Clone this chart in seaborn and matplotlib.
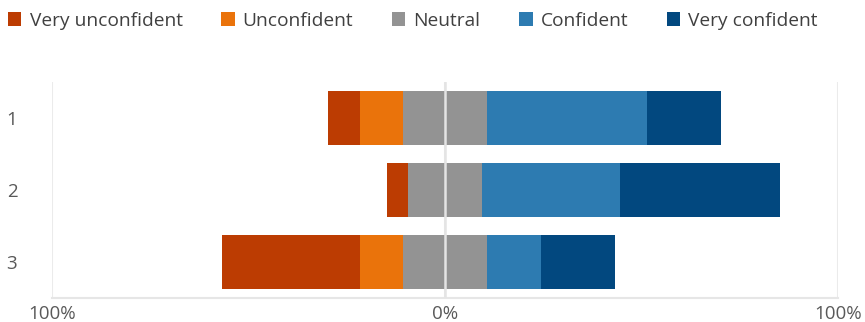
import numpy as np
import pandas as pd
import matplotlib
matplotlib.use("Agg")
import matplotlib.pyplot as plt
from matplotlib.patches import Patch
import seaborn as sns

# --- Data (response counts per question, n = 37) ---
questions = ["1", "2", "3"]
levels = ["Very unconfident", "Unconfident", "Neutral", "Confident", "Very confident"]
very_unconfident = [3, 2, 13]
unconfident = [4, 0, 4]
neutral = [8, 7, 8]
confident = [15, 13, 5]
very_confident = [7, 15, 7]

colors = ["#BC3C02", "#EA730B", "#939393", "#2D7BB1", "#02487F"]

# --- Convert counts to percentages ---
counts = np.array([very_unconfident, unconfident, neutral, confident, very_confident], dtype=float)
pct = counts / counts.sum(axis=0) * 100
vu, u, n, c, vc = pct

# diverging: overlapping bars from 0, outer ones drawn first
df = pd.DataFrame({
    "q": questions,
    "left_vu": -(vu + u + n / 2),
    "left_u": -(u + n / 2),
    "left_n": -(n / 2),
    "right_vc": n / 2 + c + vc,
    "right_c": n / 2 + c,
    "right_n": n / 2,
})

sns.set_style("white")
plt.rcParams["font.family"] = ["Open Sans", "DejaVu Sans"]

fig = plt.figure(figsize=(8.65, 3.22), dpi=100)
ax = fig.add_axes([52 / 865, 24 / 322, 786 / 865, 216 / 322])

layers = [
    ("left_vu", colors[0]), ("left_u", colors[1]), ("left_n", colors[2]),
    ("right_vc", colors[4]), ("right_c", colors[3]), ("right_n", colors[2]),
]
for col, colr in layers:
    sns.barplot(data=df, x=col, y="q", orient="h", color=colr, width=0.76,
                saturation=1, linewidth=0, ax=ax, zorder=2)

ax.set_xlim(-100, 100)
ax.set_xticks([-100, 0, 100])
ax.set_xticklabels(["100%", "0%", "100%"])
ax.set_xlabel("")
ax.set_ylabel("")
ax.grid(axis="x", color="#EBEBEB", linewidth=1.5, zorder=0)
ax.set_axisbelow(True)
ax.axvline(0, color="#E4E4E4", linewidth=1.8, zorder=3)

for s in ["top", "left", "right"]:
    ax.spines[s].set_visible(False)
ax.spines["bottom"].set_color("#E6E6E6")
ax.spines["bottom"].set_linewidth(1.5)
ax.tick_params(axis="x", length=0, pad=5, labelsize=13.5, labelcolor="#595959")
ax.tick_params(axis="y", length=0, pad=25, labelsize=13.5, labelcolor="#595959")

handles = [Patch(facecolor=colors[i], edgecolor="none", label=levels[i]) for i in range(5)]
fig.legend(handles=handles, loc="center left", bbox_to_anchor=(0.0, 1 - 20.5 / 322), ncol=5,
           frameon=False, fontsize=13.8, handlelength=0.72, handleheight=0.72,
           handletextpad=0.42, columnspacing=2.0, labelcolor="#404040",
           borderaxespad=0.0, borderpad=0.4)

fig.savefig("out.png", dpi=100)
